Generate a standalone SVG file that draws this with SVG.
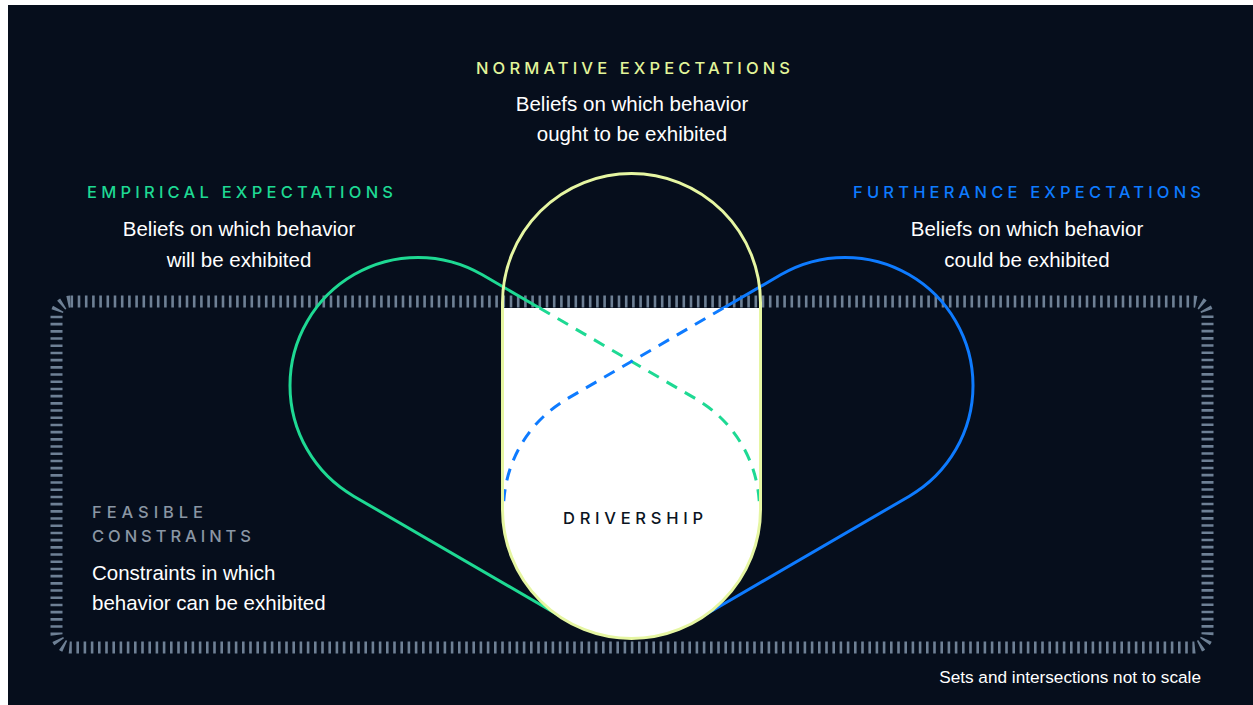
<svg xmlns="http://www.w3.org/2000/svg" width="1253" height="705" viewBox="0 0 1253 705">
  <style>
    .body { font-family: "Liberation Sans", Arial, sans-serif; font-size: 20.5px; fill: #ffffff; }
    .head { font-family: Inter, "Liberation Sans", Arial, sans-serif; font-size: 16.5px; font-weight: 500; }
    .green { fill: none; stroke: #1ed993; stroke-width: 3; }
    .blue { fill: none; stroke: #0e7bff; stroke-width: 3; }
    .dash { stroke-dasharray: 12 9; }
  </style>
  <defs>
    <path id="greenShape" d="M 567.2,620.2 L 353.7,496.2 A 128 128 0 0 1 290,385.5 A 128 128 0 0 1 482.3,274.8 L 695.8,398.8 A 128 128 0 0 1 759.5,509.5 A 128 128 0 0 1 567.2,620.2 Z"/>
    <path id="greenDash" d="M 539.5,308 L 695.8,398.8 A 128 128 0 0 1 759.5,509.5"/>
  </defs>

  <rect x="0" y="0" width="1253" height="705" fill="#ffffff"/>
  <rect x="8" y="5" width="1245" height="700" fill="#060e1c"/>

  <g id="feasible-constraints">
    <rect x="56.5" y="301.5" width="1151" height="346" rx="14" ry="14" fill="none" stroke="#6e8095" stroke-width="12" stroke-dasharray="2.6 4.6"/>
    <text class="head" x="92" y="518" fill="#8a96a4" textLength="111" lengthAdjust="spacing">FEASIBLE</text>
    <text class="head" x="92" y="542" fill="#8a96a4" textLength="159" lengthAdjust="spacing">CONSTRAINTS</text>
    <text class="body" x="92" y="580">Constraints in which</text>
    <text class="body" x="92" y="610">behavior can be exhibited</text>
  </g>

  <g id="empirical-expectations">
    <use href="#greenShape" class="green"/>
    <text class="head" x="87" y="198" fill="#1ed993" textLength="306" lengthAdjust="spacing">EMPIRICAL EXPECTATIONS</text>
    <text class="body" x="239" y="236" text-anchor="middle">Beliefs on which behavior</text>
    <text class="body" x="239" y="267" text-anchor="middle">will be exhibited</text>
  </g>

  <g id="furtherance-expectations">
    <use href="#greenShape" class="blue" transform="matrix(-1 0 0 1 1263 0)"/>
    <text class="head" x="853" y="198" fill="#0e7bff" textLength="348" lengthAdjust="spacing">FURTHERANCE EXPECTATIONS</text>
    <text class="body" x="1027" y="236" text-anchor="middle">Beliefs on which behavior</text>
    <text class="body" x="1027" y="267" text-anchor="middle">could be exhibited</text>
  </g>

  <g id="drivership">
    <path d="M 502.5,308 L 502.5,509.5 A 129 129 0 0 0 760.5,509.5 L 760.5,308 Z" fill="#ffffff"/>
    <use href="#greenDash" class="green dash"/>
    <use href="#greenDash" class="blue dash" transform="matrix(-1 0 0 1 1263 0)"/>
    <text class="head" x="563" y="524" fill="#0b1422" font-weight="600" textLength="140" lengthAdjust="spacing">DRIVERSHIP</text>
  </g>

  <g id="normative-expectations">
    <path d="M 502.5,509.5 L 502.5,302.5 A 129 129 0 0 1 760.5,302.5 L 760.5,509.5 A 129 129 0 0 1 502.5,509.5 Z" fill="none" stroke="#e6f6a2" stroke-width="3"/>
    <text class="head" x="476" y="74" fill="#e2f59a" textLength="314" lengthAdjust="spacing">NORMATIVE EXPECTATIONS</text>
    <text class="body" x="632" y="111" text-anchor="middle">Beliefs on which behavior</text>
    <text class="body" x="632" y="141" text-anchor="middle">ought to be exhibited</text>
  </g>

  <g id="connectors"></g>

  <g id="note">
    <text x="1201" y="683" text-anchor="end" font-family="Liberation Sans, Arial, sans-serif" font-size="17.2" fill="#ffffff">Sets and intersections not to scale</text>
  </g>
</svg>
